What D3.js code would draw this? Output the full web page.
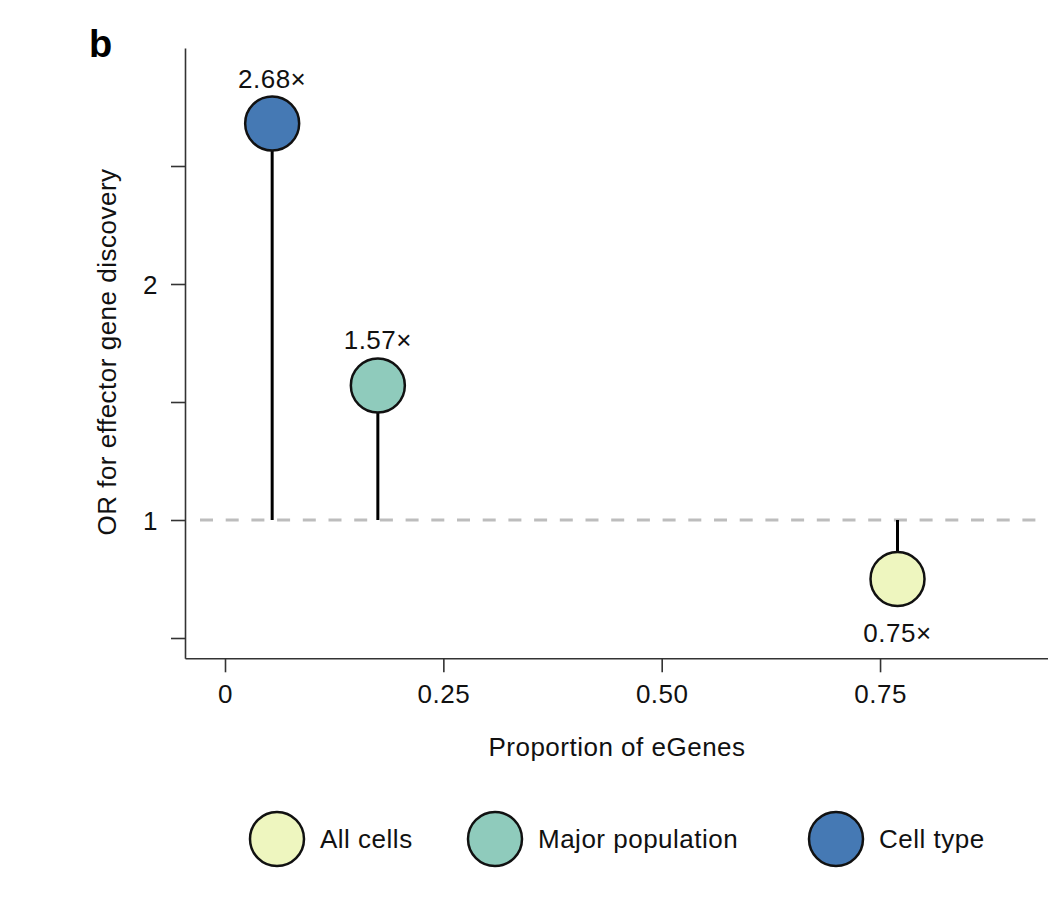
<!DOCTYPE html>
<html lang="en">
<head>
    <meta charset="UTF-8">
    <script src="https://d3js.org/d3.v7.min.js"></script>
    <title>OR for effector gene discovery</title>
    <style>
        body { margin: 0; background: #fff; font-family: "Liberation Sans", Arial, sans-serif; }
        svg { display: block; }
        svg text { letter-spacing: 0.5px; }
    </style>
</head>
<body>
    <svg id="chart" width="1048" height="912"></svg>

    <script>
        // data
        const groups = ["All cells", "Major population", "Cell type"];
        const propEGenes = [0.770, 0.175, 0.054];
        const oddsRatio = [0.75, 1.57, 2.68];
        const groupColors = ["#EEF6BF", "#8FCBBC", "#4579B4"];
        const xTicks = [0, 0.25, 0.5, 0.75];
        const xTickLabels = ["0", "0.25", "0.50", "0.75"];
        const yTicks = [0.5, 1, 1.5, 2, 2.5];
        const yTickLabels = ["", "1", "", "2", ""];

        const width = 1048, height = 912;
        const svg = d3.select("#chart");

        const x = d3.scaleLinear().domain([-0.0458, 0.9423]).range([185, 1048]);
        const y = d3.scaleLinear().domain([0.414, 3.0]).range([658.3, 48]);
        const r = 27;
        const font = 26;

        // x axis
        const xAxis = svg.append("g")
            .attr("transform", `translate(0,${y.range()[0]})`)
            .call(d3.axisBottom(x).tickValues(xTicks)
                .tickFormat((d, i) => xTickLabels[i])
                .tickSize(14).tickSizeOuter(0).tickPadding(12));

        // y axis
        const yAxis = svg.append("g")
            .attr("transform", `translate(${x.range()[0]},0)`)
            .call(d3.axisLeft(y).tickValues(yTicks)
                .tickFormat((d, i) => yTickLabels[i])
                .tickSize(14).tickSizeOuter(0).tickPadding(13));

        [xAxis, yAxis].forEach(a => {
            a.select(".domain").attr("stroke", "#333").attr("stroke-width", 1.6);
            a.selectAll(".tick line").attr("stroke", "#333").attr("stroke-width", 1.6);
            a.selectAll(".tick text")
                .attr("fill", "#111")
                .style("font-family", "'Liberation Sans', Arial, sans-serif")
                .style("font-size", font + "px");
        });
        yAxis.selectAll(".tick text").attr("dy", "0.36em");

        // reference line at OR = 1
        svg.append("line")
            .attr("x1", 200).attr("x2", width)
            .attr("y1", y(1)).attr("y2", y(1))
            .attr("stroke", "#bdbdbd")
            .attr("stroke-width", 3)
            .attr("stroke-dasharray", "13,12.7");

        const points = groups.map((g, i) => ({
            group: g, px: propEGenes[i], or: oddsRatio[i], color: groupColors[i]
        }));

        // stems
        svg.append("g")
            .selectAll("line")
            .data(points)
            .join("line")
            .attr("x1", d => x(d.px)).attr("x2", d => x(d.px))
            .attr("y1", y(1)).attr("y2", d => y(d.or))
            .attr("stroke", "#000")
            .attr("stroke-width", 3);

        // lollipop heads
        svg.append("g")
            .selectAll("circle")
            .data(points)
            .join("circle")
            .attr("cx", d => x(d.px))
            .attr("cy", d => y(d.or))
            .attr("r", r)
            .attr("fill", d => d.color)
            .attr("stroke", "#111")
            .attr("stroke-width", 2.5);

        // value labels
        svg.append("g")
            .selectAll("text")
            .data(points)
            .join("text")
            .attr("x", d => x(d.px))
            .attr("y", d => d.or >= 1 ? y(d.or) - r - 9 : y(d.or) + r + 36)
            .attr("text-anchor", "middle")
            .style("font-size", font + "px")
            .attr("fill", "#111")
            .text(d => d.or.toFixed(2) + "\u00d7");

        // axis titles
        svg.append("text")
            .attr("x", 617).attr("y", 756)
            .attr("text-anchor", "middle")
            .style("font-size", font + "px")
            .attr("fill", "#111")
            .text("Proportion of eGenes");

        svg.append("text")
            .attr("transform", "translate(116,352) rotate(-90)")
            .attr("text-anchor", "middle")
            .style("font-size", font + "px")
            .attr("fill", "#111")
            .text("OR for effector gene discovery");

        // panel letter
        svg.append("text")
            .attr("x", 89).attr("y", 57)
            .style("font-size", "38px")
            .style("font-weight", "bold")
            .style("letter-spacing", "0")
            .attr("fill", "#000")
            .text("b");

        // legend
        const legendX = [277, 495, 836];
        const legend = svg.append("g")
            .selectAll("g")
            .data(points)
            .join("g")
            .attr("transform", (d, i) => `translate(${legendX[i]},839)`);

        legend.append("circle")
            .attr("r", r)
            .attr("fill", d => d.color)
            .attr("stroke", "#111")
            .attr("stroke-width", 2.5);

        legend.append("text")
            .attr("x", 43).attr("y", 9)
            .style("font-size", font + "px")
            .attr("fill", "#111")
            .text(d => d.group);
    </script>
</body>
</html>
